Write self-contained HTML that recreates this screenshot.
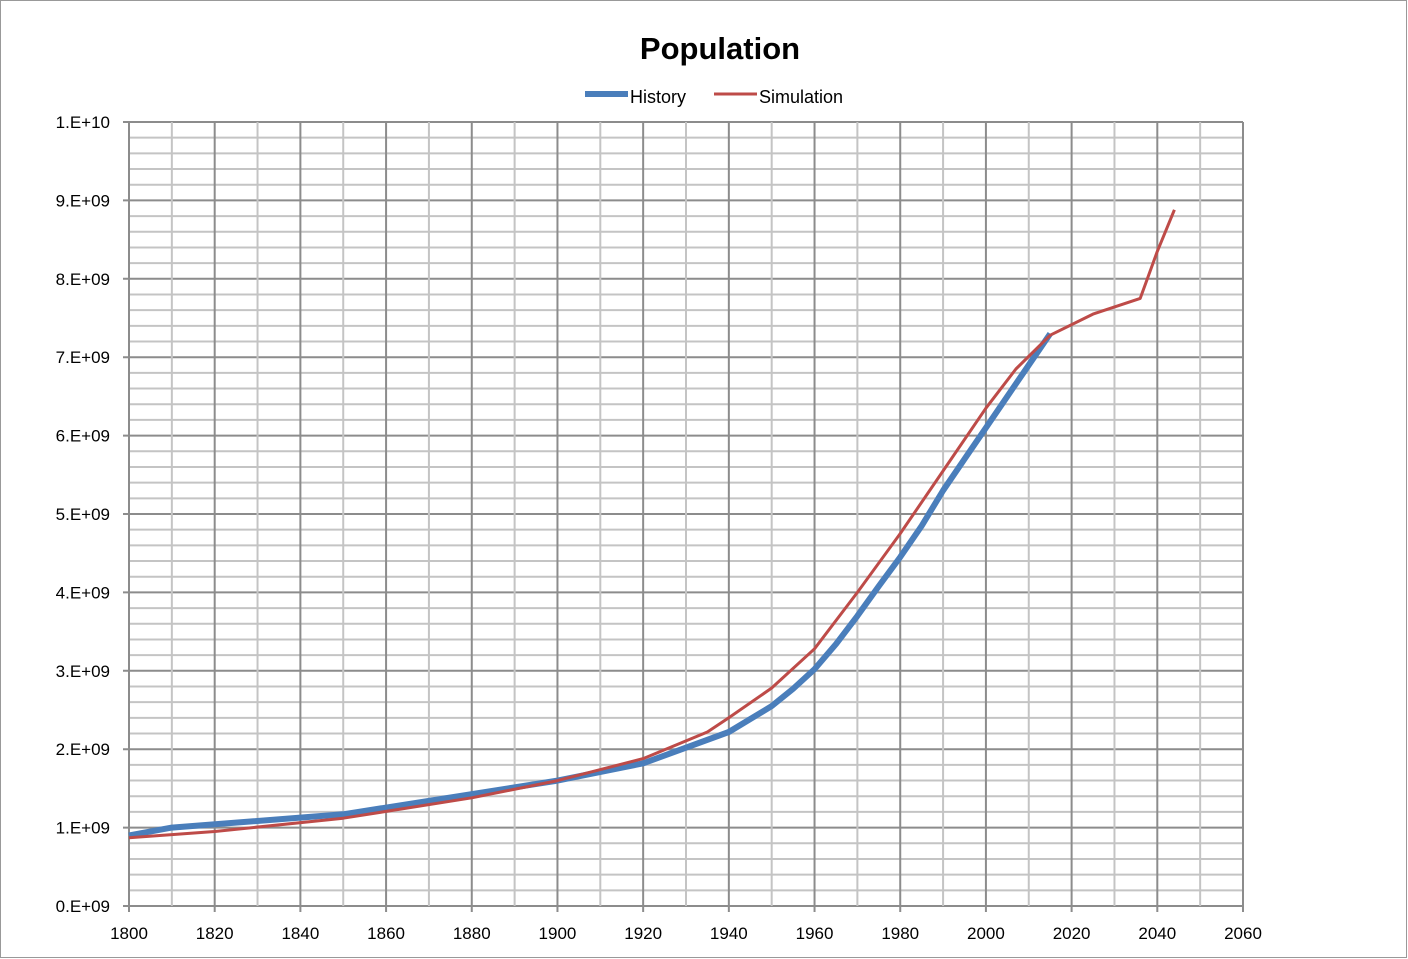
<!DOCTYPE html>
<html><head><meta charset="utf-8"><style>
body{margin:0;background:#fff;}
svg{display:block;font-family:"Liberation Sans",sans-serif;}
</style></head><body>
<svg id="c" width="1408" height="959" xmlns="http://www.w3.org/2000/svg">
<rect x="0.5" y="0.5" width="1406" height="957" fill="#fff" stroke="#999"/>
<text x="720" y="59" text-anchor="middle" font-size="31" font-weight="bold">Population</text>
<line x1="585" y1="94" x2="628" y2="94" stroke="#4a7ebb" stroke-width="6"/>
<text x="630" y="103" font-size="18">History</text>
<line x1="714" y1="94" x2="757" y2="94" stroke="#be4b48" stroke-width="3"/>
<text x="759" y="103" font-size="18">Simulation</text>
<g id="grid"></g>
<g id="lab" font-size="17"></g>
<polyline id="h" fill="none" stroke="#4a7ebb" stroke-width="6" stroke-linejoin="round"/>
<polyline id="s" fill="none" stroke="#be4b48" stroke-width="3" stroke-linejoin="round"/>
</svg>
<script>
const X=y=>129+(y-1800)*1114/260, Y=v=>906-v*78.4;
let g='',l='';
for(let i=0;i<=50;i++){const y=906-i*15.68;const maj=i%5==0;
g+=`<line x1="${maj?123:129}" x2="1243" y1="${y}" y2="${y}" stroke="${maj?'#8c8c8c':'#c4c4c4'}" stroke-width="2"/>`;
if(maj){const v=i/5;l+=`<text x="110" y="${y+6}" text-anchor="end">${v==10?'1.E+10':v+'.E+09'}</text>`;}}
for(let yr=1800;yr<=2060;yr+=10){const x=X(yr);const maj=yr%20==0;
g+=`<line x1="${x}" x2="${x}" y1="122" y2="${maj?912:906}" stroke="${maj?'#8c8c8c':'#c4c4c4'}" stroke-width="2"/>`;
if(maj)l+=`<text x="${x}" y="939" text-anchor="middle">${yr}</text>`;}
document.getElementById('grid').innerHTML=g;document.getElementById('lab').innerHTML=l;
const H=[[1800,.9],[1810,1.0],[1850,1.17],[1900,1.6],[1920,1.82],[1940,2.22],[1950,2.55],[1955,2.77],[1960,3.02],[1965,3.34],[1970,3.7],[1975,4.08],[1980,4.45],[1985,4.85],[1990,5.3],[1995,5.7],[2000,6.1],[2005,6.5],[2010,6.9],[2015,7.3]];
const S=[[1800,.87],[1820,.95],[1850,1.12],[1880,1.38],[1900,1.6],[1920,1.88],[1935,2.22],[1940,2.4],[1950,2.78],[1960,3.28],[1970,4.0],[1980,4.75],[1990,5.55],[2000,6.35],[2007,6.85],[2015,7.28],[2025,7.55],[2036,7.75],[2040,8.35],[2044,8.88]];
const p=a=>a.map(d=>X(d[0]).toFixed(1)+','+Y(d[1]).toFixed(1)).join(' ');
document.getElementById('h').setAttribute('points',p(H));
document.getElementById('s').setAttribute('points',p(S));
</script>
</body></html>
